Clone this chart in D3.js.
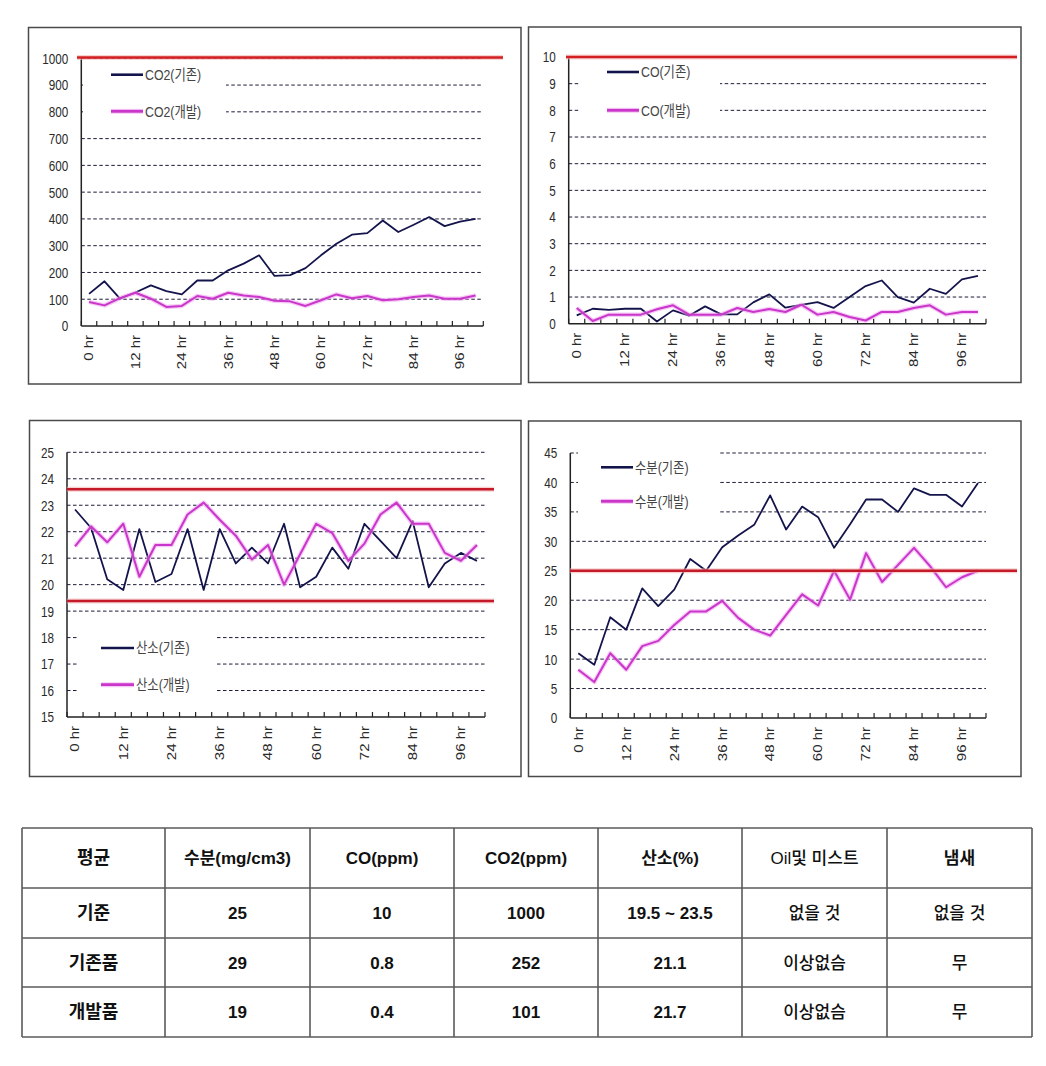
<!DOCTYPE html>
<html><head><meta charset="utf-8">
<script src="https://cdn.jsdelivr.net/npm/d3@7"></script>
<style>
html,body{margin:0;padding:0;background:#fff;}
svg{display:block;}
</style></head>
<body>
<svg id="c" width="1046" height="1066"></svg>
<script>
// ---------------- DATA ----------------
const hours = [0,4,8,12,16,20,24,28,32,36,40,44,48,52,56,60,64,68,72,76,80,84,88,92,96,100];
const xTickHours = [0,12,24,36,48,60,72,84,96];
const xTickLabels = ["0 hr","12 hr","24 hr","36 hr","48 hr","60 hr","72 hr","84 hr","96 hr"];

const co2Names = ["CO2(기존)","CO2(개발)"];
const co2Existing = [120,167,102,125,152,130,118,170,170,208,233,264,187,190,216,264,307,341,347,394,351,378,407,373,390,400];
const co2Developed = [90,77,104,124,102,71,75,112,102,124,114,108,94,92,75,96,118,104,112,96,100,108,114,102,102,114];
const co2Ticks = [0,100,200,300,400,500,600,700,800,900,1000];
const co2Limit = [1003];

const coNames = ["CO(기존)","CO(개발)"];
const coExisting = [0.31,0.56,0.52,0.56,0.56,0.08,0.5,0.3,0.65,0.35,0.35,0.8,1.1,0.6,0.71,0.81,0.59,1.0,1.41,1.62,1.0,0.79,1.31,1.12,1.66,1.79];
const coDeveloped = [0.59,0.1,0.34,0.34,0.34,0.54,0.69,0.34,0.34,0.34,0.59,0.44,0.55,0.44,0.71,0.34,0.44,0.25,0.12,0.44,0.44,0.59,0.69,0.34,0.44,0.44];
const coTicks = [0,1,2,3,4,5,6,7,8,9,10];
const coLimit = [10];

const o2Names = ["산소(기존)","산소(개발)"];
const o2Existing = [22.84,22.14,20.2,19.8,22.1,20.1,20.4,22.1,19.8,22.1,20.8,21.4,20.8,22.3,19.9,20.3,21.4,20.6,22.3,21.65,21.0,22.4,19.9,20.8,21.2,20.9];
const o2Developed = [21.45,22.2,21.6,22.3,20.3,21.5,21.5,22.65,23.1,22.45,21.85,20.95,21.5,20.0,21.15,22.3,21.95,20.9,21.55,22.65,23.1,22.3,22.3,21.2,20.9,21.5];
const o2Ticks = [15,16,17,18,19,20,21,22,23,24,25];
const o2Limits = [23.6,19.38];

const moistNames = ["수분(기존)","수분(개발)"];
const moistExisting = [11.0,9.05,17.1,15.0,22.0,19.0,21.8,27.0,25.0,29.0,31.0,32.8,37.8,32.0,35.9,34.1,28.9,32.9,37.1,37.1,35.0,39.0,37.9,37.9,35.9,39.9];
const moistDeveloped = [8.2,6.1,11.0,8.2,12.2,13.1,15.8,18.1,18.1,19.9,17.0,15.0,14.0,17.5,21.0,19.1,25.0,20.1,28.0,23.1,26.0,28.9,25.8,22.2,23.9,25.0];
const moistTicks = [0,5,10,15,20,25,30,35,40,45];
const moistLimit = [25];

const tableHeader = ["평균","수분(mg/cm3)","CO(ppm)","CO2(ppm)","산소(%)","Oil및 미스트","냄새"];
const rowStandard = ["기준","25","10","1000","19.5 ~ 23.5","없을 것","없을 것"];
const rowExisting = ["기존품","29","0.8","252","21.1","이상없슴","무"];
const rowDeveloped = ["개발품","19","0.4","101","21.7","이상없슴","무"];

// ---------------- DRAW ----------------
const svg = d3.select("#c");
const FONT = "'Liberation Sans', Arial, 'Noto Sans CJK KR', sans-serif";
const DARK = "#14144c", MAG = "#c936c9", RED = "#d11f22";

function drawChart(cfg){
  const g = svg.append("g");
  const [fx0,fy0,fx1,fy1] = cfg.frame;
  g.append("rect").attr("x",fx0).attr("y",fy0).attr("width",fx1-fx0).attr("height",fy1-fy0)
    .attr("fill","#fff").attr("stroke","#4a4a4a").attr("stroke-width",1.5);
  const p = cfg.plot;
  const x = d3.scaleBand().domain(cfg.hours).range([p.left,p.right]).padding(0);
  const bw = x.bandwidth();
  const y = d3.scaleLinear().domain([cfg.ticks[0], cfg.ticks[cfg.ticks.length-1]]).range([p.bottom,p.top]);

  // gridlines
  g.append("g").selectAll("line").data(cfg.ticks.slice(1)).join("line")
    .attr("x1",p.left).attr("x2",p.right).attr("y1",d=>y(d)).attr("y2",d=>y(d))
    .attr("stroke","#1c1c3a").attr("stroke-width",1).attr("stroke-dasharray","3.5,2.5");

  // legend box (covers gridlines)
  const L = cfg.legend;
  g.append("rect").attr("x",L.box[0]).attr("y",L.box[1]).attr("width",L.box[2]-L.box[0]).attr("height",L.box[3]-L.box[1]).attr("fill","#fff");

  // y labels
  g.append("g").selectAll("text").data(cfg.ticks).join("text")
    .attr("transform",d=>`translate(${p.left-13},${y(d)}) scale(0.78,1)`)
    .attr("text-anchor","end").attr("dy","0.36em")
    .attr("font-family",FONT).attr("font-size",15).attr("fill","#2a2a2a")
    .text(d=>d);

  // axes
  g.append("line").attr("x1",p.left).attr("x2",p.left).attr("y1",p.top).attr("y2",p.bottom)
    .attr("stroke","#222").attr("stroke-width",1.5);
  g.append("line").attr("x1",p.left).attr("x2",p.right).attr("y1",p.bottom).attr("y2",p.bottom)
    .attr("stroke","#222").attr("stroke-width",1.5);
  const edges = cfg.hours.map(h=>x(h)).concat([p.right]);
  g.append("g").selectAll("line").data(edges).join("line")
    .attr("x1",d=>d).attr("x2",d=>d).attr("y1",p.bottom).attr("y2",p.bottom-5)
    .attr("stroke","#222").attr("stroke-width",1.2);
  g.append("g").selectAll("text").data(cfg.xTickHours).join("text")
    .attr("transform",(d)=>`translate(${x(d)+bw/2},${p.bottom+9}) scale(0.8,1) rotate(-90)`)
    .attr("text-anchor","end").attr("dy","0.36em")
    .attr("font-family",FONT).attr("font-size",15).attr("fill","#2a2a2a")
    .text((d,i)=>cfg.xTickLabels[i]);

  // series
  const line = d3.line().x((d,i)=>x(cfg.hours[i])+bw/2).y(d=>y(d));
  cfg.series.forEach(s=>{
    if(s.halo) g.append("path").attr("d",line(s.values)).attr("fill","none")
      .attr("stroke",s.halo).attr("stroke-width",4.5).attr("stroke-linejoin","round").attr("opacity",0.55);
    g.append("path").attr("d",line(s.values)).attr("fill","none")
      .attr("stroke",s.color).attr("stroke-width",s.width).attr("stroke-linejoin","round");
  });

  // legend entries
  cfg.series.forEach((s,i)=>{
    const ly = L.rows[i];
    if(s.halo) g.append("line").attr("x1",L.lineX[0]).attr("x2",L.lineX[1]).attr("y1",ly).attr("y2",ly)
      .attr("stroke",s.halo).attr("stroke-width",5).attr("opacity",0.55);
    g.append("line").attr("x1",L.lineX[0]).attr("x2",L.lineX[1]).attr("y1",ly).attr("y2",ly)
      .attr("stroke",s.color).attr("stroke-width",s.width+0.8);
    g.append("text").attr("transform",`translate(${L.textX},${ly}) scale(0.85,1)`)
      .attr("dy","0.36em").attr("font-family",FONT).attr("font-size",14.5).attr("fill","#444")
      .text(s.name);
  });

  // limit lines
  cfg.limits.forEach(v=>{
    g.append("line").attr("x1",cfg.limitX[0]).attr("x2",cfg.limitX[1]).attr("y1",y(v)).attr("y2",y(v))
      .attr("stroke","#f4b4b4").attr("stroke-width",5).attr("opacity",0.6);
    g.append("line").attr("x1",cfg.limitX[0]).attr("x2",cfg.limitX[1]).attr("y1",y(v)).attr("y2",y(v))
      .attr("stroke",cfg.limitColor||RED).attr("stroke-width",2.5);
  });
}

drawChart({
  frame:[28.5,27.5,521,384], plot:{left:81.3,right:483.3,top:58.3,bottom:326},
  hours, xTickHours, xTickLabels, ticks:co2Ticks,
  series:[{name:co2Names[0],values:co2Existing,color:DARK,width:1.8},
          {name:co2Names[1],values:co2Developed,color:MAG,width:2,halo:"#ef9fef"}],
  limits:co2Limit, limitX:[77,503],
  legend:{box:[83,62,226,126],rows:[74.7,111.3],lineX:[111,143],textX:145}
});
drawChart({
  frame:[528.5,27,1021,382.5], plot:{left:568.7,right:986,top:57,bottom:323.7},
  hours, xTickHours, xTickLabels, ticks:coTicks,
  series:[{name:coNames[0],values:coExisting,color:DARK,width:1.8},
          {name:coNames[1],values:coDeveloped,color:MAG,width:2,halo:"#ef9fef"}],
  limits:coLimit, limitX:[566,1017],
  legend:{box:[579,60,720,124],rows:[72,110.3],lineX:[607,639],textX:641}
});
drawChart({
  frame:[29.5,420.5,521,776.5], plot:{left:67,right:485,top:452.3,bottom:717},
  hours, xTickHours, xTickLabels, ticks:o2Ticks,
  series:[{name:o2Names[0],values:o2Existing,color:DARK,width:1.8},
          {name:o2Names[1],values:o2Developed,color:MAG,width:2,halo:"#ef9fef"}],
  limits:o2Limits, limitX:[67,494], limitColor:"#c41a2a",
  legend:{box:[78,626,217,700],rows:[648,684.7],lineX:[101,134],textX:136}
});
drawChart({
  frame:[528.5,421,1021,776.5], plot:{left:570.3,right:986,top:453,bottom:718},
  hours, xTickHours, xTickLabels, ticks:moistTicks,
  series:[{name:moistNames[0],values:moistExisting,color:DARK,width:1.8},
          {name:moistNames[1],values:moistDeveloped,color:MAG,width:2,halo:"#ef9fef"}],
  limits:moistLimit, limitX:[570,1017], limitColor:"#c41a2a",
  legend:{box:[578,449,720,522],rows:[467.3,501.3],lineX:[601,633],textX:635}
});

// ---------------- TABLE ----------------
const colEdges = [22,165,310,454,598,742,887,1032];
const rowEdges = [828,888,938,987,1037];
const rows = [tableHeader,rowStandard,rowExisting,rowDeveloped];
const tg = svg.append("g");
rowEdges.forEach(yv=>tg.append("line").attr("x1",colEdges[0]).attr("x2",colEdges[colEdges.length-1])
  .attr("y1",yv).attr("y2",yv).attr("stroke","#5a5a5a").attr("stroke-width",1.6));
colEdges.forEach(xv=>tg.append("line").attr("x1",xv).attr("x2",xv)
  .attr("y1",rowEdges[0]).attr("y2",rowEdges[rowEdges.length-1]).attr("stroke","#5a5a5a").attr("stroke-width",1.6));
rows.forEach((r,ri)=>{
  const cy=(rowEdges[ri]+rowEdges[ri+1])/2;
  r.forEach((t,ci)=>{
    const cx=(colEdges[ci]+colEdges[ci+1])/2;
    const bold = (ri===0 && ci!==5) || ci===0 || (ri>0 && ci<5);
    tg.append("text").attr("x",cx).attr("y",cy).attr("dy","0.36em").attr("text-anchor","middle")
      .attr("font-family","'Liberation Sans', Arial, 'Noto Sans CJK KR', sans-serif")
      .attr("font-size",ci===0?18:17).attr("font-weight",bold?"bold":"500")
      .attr("fill","#111").text(t);
  });
});
</script>
</body></html>
